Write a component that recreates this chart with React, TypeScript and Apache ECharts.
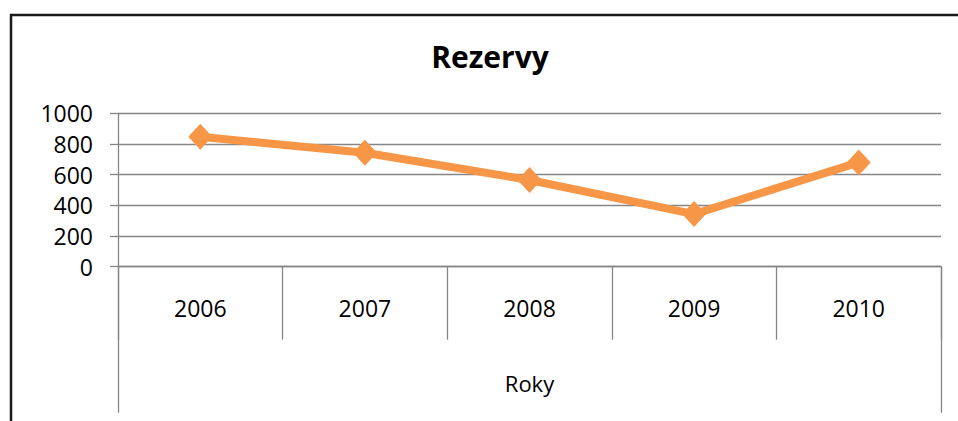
import React, { useEffect, useRef } from "react";
import * as echarts from "echarts";

const years = ["2006", "2007", "2008", "2009", "2010"];
const reserves = [847, 743, 565, 343, 680];
const axisTitle = ["Roky"];
const chartTitle = "Rezervy";

const FONT = "'Open Sans', 'Noto Sans', sans-serif";
const GRAY = "#868686";

export default function App() {
  const ref = useRef<HTMLDivElement>(null);
  useEffect(() => {
    document.body.style.margin = "0";
    const chart = echarts.init(ref.current!, null, { renderer: "svg" });
    chart.setOption({
      animation: false,
      backgroundColor: "#ffffff",
      title: {
        text: chartTitle,
        left: 485,
        textAlign: "center",
        top: 32,
        textStyle: { fontFamily: FONT, fontSize: 30, fontWeight: "bold", color: "#000", lineHeight: 38 },
      },
      graphic: [
        {
          type: "rect",
          shape: { x: 11, y: 15, width: 1000, height: 500 },
          style: { fill: "none", stroke: "#1a1a1a", lineWidth: 2.5 },
          silent: true,
        },
      ],
      grid: { left: 118, right: 17, top: 113.3, bottom: 154.3, containLabel: false },
      xAxis: [
        {
          type: "category",
          data: years,
          position: "bottom",
          boundaryGap: true,
          axisLine: { show: true, lineStyle: { color: GRAY, width: 1.3 } },
          axisTick: { show: true, interval: 0, length: 73, lineStyle: { color: GRAY, width: 1.3 } },
          axisLabel: { interval: 0, margin: 30, fontFamily: FONT, fontSize: 23, lineHeight: 22, color: "#000" },
          splitLine: { show: false },
        },
        {
          type: "category",
          data: axisTitle,
          position: "bottom",
          boundaryGap: true,
          axisLine: { show: false },
          axisTick: { show: true, interval: 0, length: 146, lineStyle: { color: GRAY, width: 1.3 } },
          axisLabel: { interval: 0, margin: 105, fontFamily: FONT, fontSize: 22, lineHeight: 22, color: "#000" },
          splitLine: { show: false },
        },
      ],
      yAxis: {
        type: "value",
        min: 0,
        max: 1000,
        interval: 200,
        axisLine: { show: true, lineStyle: { color: GRAY, width: 1.3 } },
        axisTick: { show: true, length: 8, inside: false, lineStyle: { color: GRAY, width: 1.3 } },
        axisLabel: { margin: 25, fontFamily: FONT, fontSize: 23, color: "#000", formatter: (v: number) => String(v) },
        splitLine: { show: true, lineStyle: { color: GRAY, width: 1.3 } },
      },
      series: [
        {
          type: "line",
          xAxisIndex: 0,
          data: reserves,
          symbol: "diamond",
          symbolSize: [24, 26],
          itemStyle: { color: "#F79646" },
          lineStyle: { color: "#F79646", width: 8 },
        },
      ],
    });
    return () => chart.dispose();
  }, []);
  return <div ref={ref} style={{ width: 958, height: 421 }} />;
}
